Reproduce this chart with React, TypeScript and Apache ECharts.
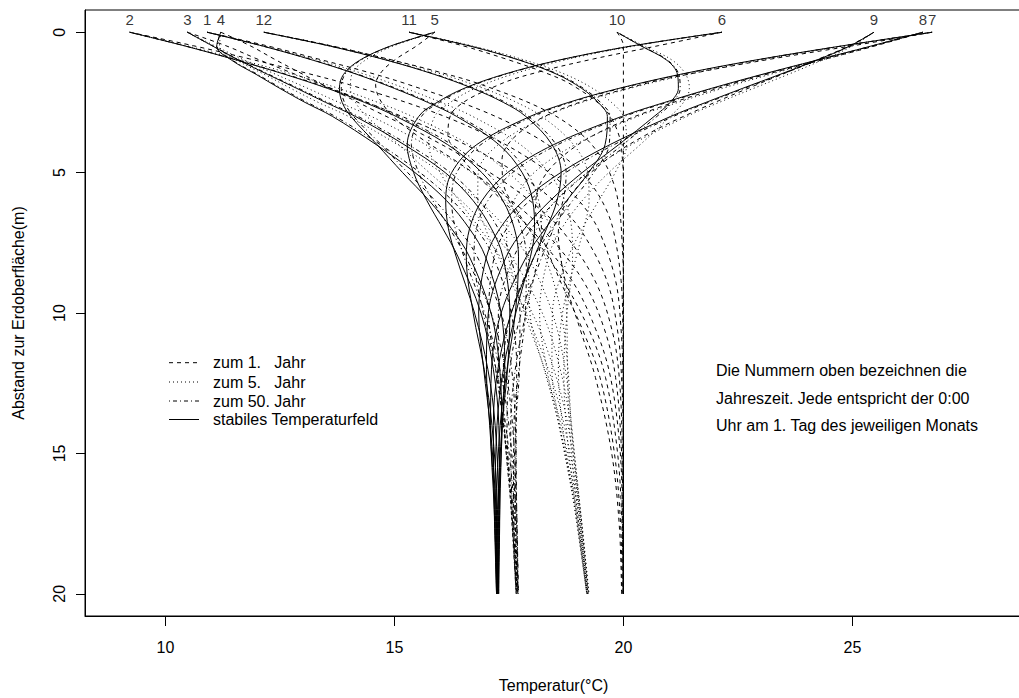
import React, { useEffect, useRef } from 'react';
import * as echarts from 'echarts';

// Month numbers (curve labels at the surface)
const monthLabels = ['1', '2', '3', '4', '5', '6', '7', '8', '9', '10', '11', '12'];

// Depths (m) at which the profiles were read
const depths = [0, 0.5, 1, 1.5, 2, 2.5, 3, 4, 5, 6, 7, 8, 10, 12, 14, 17, 20];
const depthsYear1 = [0, 0.48, 0.95, 1.41, 1.87, 2.77, 3.66, 4.54, 5.4, 6.26, 7.12, 8.85, 10.6, 12.3, 14.95, 17.56, 20];

// Stable (periodic) temperature field, one row per month (Jan..Dec), °C
const stableField = [
  [10.91, 12.14, 13.23, 14.18, 15.0, 15.73, 16.36, 17.28, 17.79, 18.02, 18.06, 17.97, 17.65, 17.38, 17.24, 17.2, 17.23],
  [9.22, 10.45, 11.57, 12.61, 13.54, 14.35, 15.04, 16.16, 16.91, 17.37, 17.62, 17.71, 17.64, 17.46, 17.31, 17.23, 17.23],
  [10.48, 11.04, 11.61, 12.23, 12.87, 13.5, 14.15, 15.21, 16.11, 16.72, 17.12, 17.37, 17.52, 17.47, 17.35, 17.26, 17.24],
  [11.21, 11.12, 11.45, 11.98, 12.5, 13.05, 13.65, 14.6, 15.45, 16.14, 16.64, 16.99, 17.33, 17.41, 17.36, 17.28, 17.25],
  [15.88, 14.9, 14.24, 13.89, 13.8, 13.86, 14.05, 14.62, 15.18, 15.76, 16.25, 16.64, 17.11, 17.3, 17.34, 17.3, 17.26],
  [22.15, 20.14, 18.57, 17.39, 16.52, 15.93, 15.53, 15.28, 15.42, 15.71, 16.06, 16.39, 16.89, 17.16, 17.28, 17.3, 17.27],
  [26.74, 24.72, 22.85, 21.24, 19.9, 18.8, 17.96, 16.8, 16.25, 16.12, 16.18, 16.35, 16.75, 17.04, 17.2, 17.28, 17.28],
  [26.54, 25.39, 24.21, 23.03, 21.92, 20.9, 19.96, 18.48, 17.47, 16.91, 16.64, 16.57, 16.72, 16.96, 17.13, 17.25, 17.27],
  [25.47, 24.93, 24.21, 23.42, 22.6, 21.8, 21.03, 19.71, 18.63, 17.82, 17.3, 17.01, 16.84, 16.95, 17.09, 17.22, 17.26],
  [19.86, 20.4, 20.95, 21.18, 21.2, 21.02, 20.67, 19.9, 19.1, 18.4, 17.84, 17.44, 17.05, 17.01, 17.08, 17.2, 17.25],
  [15.32, 16.67, 17.74, 18.55, 19.09, 19.45, 19.65, 19.6, 19.24, 18.76, 18.29, 17.88, 17.33, 17.12, 17.1, 17.18, 17.24],
  [12.15, 13.61, 14.84, 15.87, 16.71, 17.38, 17.87, 18.44, 18.64, 18.55, 18.32, 18.05, 17.55, 17.26, 17.16, 17.18, 17.23],
];

// 50th year
const year50 = [
  [10.91, 12.15, 13.25, 14.21, 15.04, 15.78, 16.42, 17.37, 17.9, 18.15, 18.21, 18.14, 17.87, 17.64, 17.54, 17.57, 17.66],
  [9.22, 10.46, 11.59, 12.64, 13.58, 14.4, 15.1, 16.25, 17.02, 17.5, 17.77, 17.88, 17.86, 17.72, 17.61, 17.6, 17.66],
  [10.48, 11.05, 11.63, 12.26, 12.91, 13.55, 14.21, 15.3, 16.22, 16.85, 17.27, 17.54, 17.74, 17.73, 17.65, 17.63, 17.67],
  [11.21, 11.13, 11.47, 12.01, 12.54, 13.1, 13.71, 14.69, 15.56, 16.27, 16.79, 17.16, 17.55, 17.67, 17.66, 17.65, 17.68],
  [15.88, 14.91, 14.26, 13.92, 13.84, 13.91, 14.11, 14.71, 15.29, 15.89, 16.4, 16.81, 17.33, 17.56, 17.64, 17.67, 17.69],
  [22.15, 20.15, 18.59, 17.42, 16.56, 15.98, 15.59, 15.37, 15.53, 15.84, 16.21, 16.56, 17.11, 17.42, 17.58, 17.67, 17.7],
  [26.74, 24.73, 22.87, 21.27, 19.94, 18.85, 18.02, 16.89, 16.36, 16.25, 16.33, 16.52, 16.97, 17.3, 17.5, 17.65, 17.71],
  [26.54, 25.4, 24.23, 23.06, 21.96, 20.95, 20.02, 18.57, 17.58, 17.04, 16.79, 16.74, 16.94, 17.22, 17.43, 17.62, 17.7],
  [25.47, 24.94, 24.23, 23.45, 22.64, 21.85, 21.09, 19.8, 18.74, 17.95, 17.45, 17.18, 17.06, 17.21, 17.39, 17.59, 17.69],
  [19.86, 20.41, 20.97, 21.21, 21.24, 21.07, 20.73, 19.99, 19.21, 18.53, 17.99, 17.61, 17.27, 17.27, 17.38, 17.57, 17.68],
  [15.32, 16.68, 17.76, 18.58, 19.13, 19.5, 19.71, 19.69, 19.35, 18.89, 18.44, 18.05, 17.55, 17.38, 17.4, 17.55, 17.67],
  [12.15, 13.62, 14.86, 15.9, 16.75, 17.43, 17.93, 18.53, 18.75, 18.68, 18.47, 18.22, 17.77, 17.52, 17.46, 17.55, 17.66],
];

// 5th year
const year5 = [
  [10.91, 12.2, 13.35, 14.36, 15.24, 16.02, 16.71, 17.75, 18.37, 18.72, 18.87, 18.89, 18.77, 18.7, 18.75, 18.96, 19.2],
  [9.22, 10.51, 11.69, 12.79, 13.78, 14.64, 15.39, 16.63, 17.49, 18.07, 18.43, 18.63, 18.76, 18.78, 18.82, 18.99, 19.2],
  [10.48, 11.1, 11.73, 12.41, 13.11, 13.79, 14.5, 15.68, 16.69, 17.42, 17.93, 18.29, 18.64, 18.79, 18.86, 19.02, 19.21],
  [11.21, 11.18, 11.57, 12.16, 12.74, 13.34, 14.0, 15.07, 16.03, 16.84, 17.45, 17.91, 18.45, 18.73, 18.87, 19.04, 19.22],
  [15.88, 14.96, 14.36, 14.07, 14.04, 14.15, 14.4, 15.09, 15.76, 16.46, 17.06, 17.56, 18.23, 18.62, 18.85, 19.06, 19.23],
  [22.15, 20.2, 18.69, 17.57, 16.76, 16.22, 15.88, 15.75, 16.0, 16.41, 16.87, 17.31, 18.01, 18.48, 18.79, 19.06, 19.24],
  [26.74, 24.78, 22.97, 21.42, 20.14, 19.09, 18.31, 17.27, 16.83, 16.82, 16.99, 17.27, 17.87, 18.36, 18.71, 19.04, 19.25],
  [26.54, 25.45, 24.33, 23.21, 22.16, 21.19, 20.31, 18.95, 18.05, 17.61, 17.45, 17.49, 17.84, 18.28, 18.64, 19.01, 19.24],
  [25.47, 24.99, 24.33, 23.6, 22.84, 22.09, 21.38, 20.18, 19.21, 18.52, 18.11, 17.93, 17.96, 18.27, 18.6, 18.98, 19.23],
  [19.86, 20.46, 21.07, 21.36, 21.44, 21.31, 21.02, 20.37, 19.68, 19.1, 18.65, 18.36, 18.17, 18.33, 18.59, 18.96, 19.22],
  [15.32, 16.73, 17.86, 18.73, 19.33, 19.74, 20.0, 20.07, 19.82, 19.46, 19.1, 18.8, 18.45, 18.44, 18.61, 18.94, 19.21],
  [12.15, 13.67, 14.96, 16.05, 16.95, 17.67, 18.22, 18.91, 19.22, 19.25, 19.13, 18.97, 18.67, 18.58, 18.67, 18.94, 19.2],
];

// 1st year (read at depthsYear1)
const year1 = [
  [10.91, 12.21, 13.33, 14.39, 15.32, 16.88, 18.01, 18.78, 19.29, 19.61, 19.79, 19.95, 19.99, 20.0, 20.0, 20.0, 20.0],
  [9.22, 10.61, 11.84, 12.97, 14.02, 15.73, 17.02, 17.98, 18.67, 19.16, 19.48, 19.83, 19.95, 19.99, 20.0, 20.0, 20.0],
  [10.48, 11.32, 12.0, 12.7, 13.42, 14.82, 16.11, 17.18, 18.02, 18.65, 19.1, 19.64, 19.87, 19.96, 20.0, 20.0, 20.0],
  [11.21, 11.85, 12.37, 12.9, 13.44, 14.54, 15.64, 16.62, 17.46, 18.15, 18.69, 19.38, 19.75, 19.91, 19.98, 20.0, 20.0],
  [15.88, 15.49, 15.04, 14.72, 14.59, 14.84, 15.48, 16.3, 17.06, 17.75, 18.3, 19.12, 19.59, 19.83, 19.96, 19.99, 20.0],
  [22.15, 20.76, 19.35, 18.16, 17.28, 16.3, 16.17, 16.5, 16.99, 17.52, 18.04, 18.88, 19.4, 19.72, 19.93, 19.98, 19.99],
  [26.74, 25.01, 23.24, 21.69, 20.38, 18.59, 17.67, 17.35, 17.38, 17.64, 17.99, 18.69, 19.25, 19.61, 19.87, 19.97, 19.99],
  [26.54, 25.51, 24.42, 23.33, 22.32, 20.62, 19.36, 18.59, 18.18, 18.08, 18.19, 18.62, 19.11, 19.49, 19.8, 19.94, 19.97],
  [25.47, 24.94, 24.27, 23.6, 22.91, 21.62, 20.49, 19.63, 19.05, 18.69, 18.58, 18.73, 19.06, 19.39, 19.74, 19.91, 19.96],
  [19.86, 20.0, 20.0, 20.0, 20.0, 20.0, 20.0, 20.0, 20.0, 20.0, 20.0, 20.0, 20.0, 20.0, 20.0, 20.0, 20.0],
  [15.32, 16.49, 17.43, 18.24, 18.87, 19.61, 19.9, 19.98, 20.0, 20.0, 20.0, 20.0, 20.0, 20.0, 20.0, 20.0, 20.0],
  [12.15, 13.61, 14.85, 15.96, 16.91, 18.28, 19.1, 19.55, 19.79, 19.91, 19.96, 20.0, 20.0, 20.0, 20.0, 20.0, 20.0],
];

const legendLabels = ['zum 1.\u00a0\u00a0\u00a0Jahr', 'zum 5.\u00a0\u00a0\u00a0Jahr', 'zum 50. Jahr', 'stabiles Temperaturfeld'];
const noteLines = [
  'Die Nummern oben bezeichnen die',
  'Jahreszeit. Jede entspricht der 0:00',
  'Uhr am 1. Tag des jeweiligen Monats',
];

const FONT = 'Liberation Sans, Arial, Helvetica, sans-serif';
const DASHES: any[] = [[4, 4], [1, 3], [1, 3, 4, 3], 'solid'];

export default function App() {
  const ref = useRef<HTMLDivElement>(null);

  useEffect(() => {
    if (!ref.current) return;
    const chart = echarts.init(ref.current, null, { renderer: 'svg' });

    const series: any[] = [];
    const groups = [
      { rows: year1, zs: depthsYear1, dash: DASHES[0], key: 'j1' },
      { rows: year5, zs: depths, dash: DASHES[1], key: 'j5' },
      { rows: year50, zs: depths, dash: DASHES[2], key: 'j50' },
      { rows: stableField, zs: depths, dash: DASHES[3], key: 'st' },
    ];
    groups.forEach((g, gi) => {
      g.rows.forEach((row, m) => {
        series.push({
          type: 'line',
          name: g.key + '-' + monthLabels[m],
          data: row.map((t, i) => [t, g.zs[i]]),
          showSymbol: false,
          symbol: 'none',
          smooth: 0.35,
          silent: true,
          z: 2 + gi,
          lineStyle: { color: '#000', width: 1, type: g.dash },
        });
      });
    });

    series.push({
      type: 'scatter',
      symbolSize: 0,
      silent: true,
      z: 10,
      data: stableField.map((row, m) => ({ value: [row[0], -0.44], name: monthLabels[m] })),
      label: {
        show: true,
        position: 'inside',
        formatter: (p: any) => p.name,
        color: '#000',
        fontSize: 15,
        fontFamily: FONT,
      },
    });

    const graphics: any[] = [];
    const legendY = [362.7, 382, 401, 419.5];
    legendLabels.forEach((lab, i) => {
      graphics.push({
        type: 'line',
        shape: { x1: 169, y1: legendY[i], x2: 199, y2: legendY[i] },
        style: { stroke: '#000', lineWidth: 1, lineDash: DASHES[i] === 'solid' ? null : DASHES[i] },
        silent: true,
      });
      graphics.push({
        type: 'text',
        x: 213,
        y: legendY[i],
        style: { text: lab, fill: '#000', font: '16px ' + FONT, textVerticalAlign: 'middle', verticalAlign: 'middle' },
        silent: true,
      });
    });
    const noteY = [370.7, 398.3, 425.7];
    noteLines.forEach((t, i) => {
      graphics.push({
        type: 'text',
        x: 716,
        y: noteY[i],
        style: { text: t, fill: '#000', font: '16px ' + FONT, textVerticalAlign: 'middle', verticalAlign: 'middle' },
        silent: true,
      });
    });

    chart.setOption({
      animation: false,
      backgroundColor: '#fff',
      textStyle: { fontFamily: FONT, color: '#000' },
      grid: {
        left: 85,
        top: 10,
        width: 937,
        height: 608,
        show: true,
        borderColor: '#000',
        borderWidth: 1,
        backgroundColor: 'transparent',
      },
      xAxis: {
        type: 'value',
        position: 'bottom',
        min: 8.2445,
        max: 28.703,
        splitLine: { show: false },
        axisLine: { show: true, onZero: false, lineStyle: { color: '#000', width: 1 } },
        axisTick: { show: true, length: 10, customValues: [10, 15, 20, 25], lineStyle: { color: '#000' } },
        axisLabel: { customValues: [10, 15, 20, 25], margin: 23, fontSize: 16, color: '#000', fontFamily: FONT },
        name: 'Temperatur(°C)',
        nameLocation: 'middle',
        nameGap: 61,
        nameTextStyle: { fontSize: 16, color: '#000', fontFamily: FONT },
      },
      yAxis: {
        type: 'value',
        position: 'left',
        inverse: true,
        min: -0.792,
        max: 20.79,
        splitLine: { show: false },
        axisLine: { show: true, onZero: false, lineStyle: { color: '#000', width: 1 } },
        axisTick: { show: true, length: 9, customValues: [0, 5, 10, 15, 20], lineStyle: { color: '#000' } },
        axisLabel: {
          customValues: [0, 5, 10, 15, 20],
          rotate: 90,
          margin: 18,
          fontSize: 16,
          color: '#000',
          fontFamily: FONT,
        },
        name: 'Abstand zur Erdoberfläche(m)',
        nameLocation: 'middle',
        nameGap: 59,
        nameTextStyle: { fontSize: 16, color: '#000', fontFamily: FONT },
      },
      graphic: graphics,
      series,
    });

    return () => {
      chart.dispose();
    };
  }, []);

  return (
    <div
      style={{
        position: 'fixed',
        left: 0,
        top: 0,
        width: 1019,
        height: 698,
        overflow: 'hidden',
        background: '#fff',
      }}
    >
      <div ref={ref} style={{ width: 1030, height: 698 }} />
    </div>
  );
}
